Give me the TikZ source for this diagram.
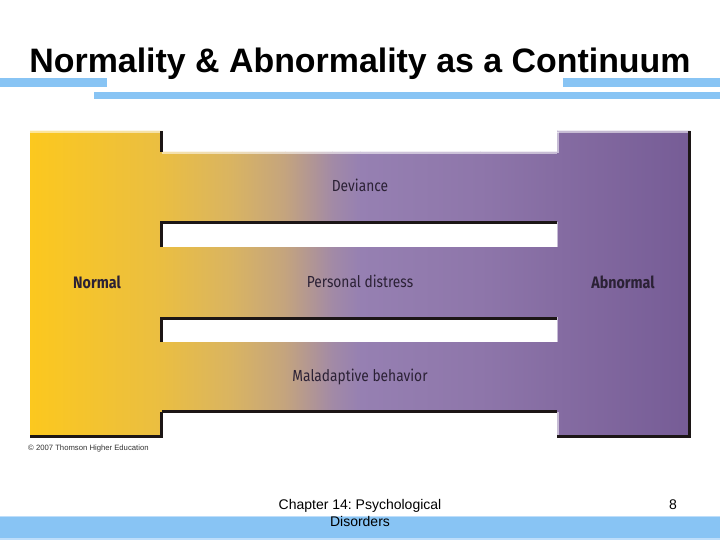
\documentclass[tikz,border=0pt]{standalone}
\usepackage{fontspec}
\setmainfont{Liberation Sans}
\newfontfamily\lblfont[FakeStretch=0.86]{Fira Sans}
\frenchspacing
\definecolor{barblue}{RGB}{136,196,244}
\definecolor{barlight}{RGB}{190,222,250}
\definecolor{shadowc}{RGB}{28,22,22}
\definecolor{lbltext}{RGB}{43,33,53}
\definecolor{g0}{RGB}{252,200,30}
\definecolor{g1}{RGB}{234,190,66}
\definecolor{g2}{RGB}{217,180,98}
\definecolor{g3}{RGB}{196,164,126}
\definecolor{g4}{RGB}{162,138,166}
\definecolor{g5}{RGB}{150,128,178}
\definecolor{g6}{RGB}{142,118,170}
\definecolor{g7}{RGB}{133,108,162}
\definecolor{g8}{RGB}{118,92,150}
\tikzset{
  darkedge/.style={draw=shadowc,line width=3pt},
  lightedge/.style={draw=white,draw opacity=0.55,line width=2pt},
  lbl/.style={text=lbltext,font=\lblfont\fontsize{16}{18}\selectfont},
  endlbl/.style={text=lbltext,font=\lblfont\bfseries\fontsize{16.6}{18}\selectfont},
  foot/.style={font=\fontsize{14}{16}\selectfont}
}
\begin{document}
\begin{tikzpicture}[x=1pt,y=-1pt]
\useasboundingbox (0,0) rectangle (720,540);
\fill[white] (0,0) rectangle (720,540);
% title
\node[anchor=base,font=\bfseries\fontsize{33.9}{37}\selectfont] (title) at (360,73) {Normality \& Abnormality as a Continuum};
% title bars
\fill[barblue] (0,78) rectangle (107,87);
\fill[barblue] (563,78) rectangle (720,87);
\fill[barblue] (94,92) rectangle (720,99);
% continuum shape
\begin{scope}
\clip (30,131) -- (162,131) -- (162,152) -- (557,152) -- (557,131) -- (690,131)
  -- (690,437) -- (557,437) -- (557,412) -- (162,412) -- (162,437) -- (30,437) -- cycle;
\shade[left color=g0,right color=g1] (29,130) rectangle (162.5,438);
\shade[left color=g1,right color=g2] (162,130) rectangle (232.5,438);
\shade[left color=g2,right color=g3] (232,130) rectangle (285.5,438);
\shade[left color=g3,right color=g4] (285,130) rectangle (332.5,438);
\shade[left color=g4,right color=g5] (332,130) rectangle (360.5,438);
\shade[left color=g5,right color=g6] (360,130) rectangle (480.5,438);
\shade[left color=g6,right color=g7] (480,130) rectangle (557.5,438);
\shade[left color=g7,right color=g8] (557,130) rectangle (691,438);
\end{scope}
% gaps
\fill[white] (162,222) rectangle (557,247);
\fill[white] (162,317) rectangle (557,342);
% light edges
\draw[lightedge] (30,132) -- (162,132);
\draw[lightedge] (162,153) -- (557,153);
\draw[lightedge] (557,132) -- (689,132);
\draw[lightedge] (558,132) -- (558,153);
\draw[lightedge] (162,246) -- (557,246) -- (557,222);
\draw[lightedge] (162,341) -- (557,341) -- (557,317);
\draw[lightedge] (558,412) -- (558,436);
% dark edges
\draw[darkedge] (161,131) -- (161,152);
\draw[darkedge] (161,247) -- (161,223) -- (557,223);
\draw[darkedge] (161,342) -- (161,318) -- (557,318);
\draw[darkedge] (162,411) -- (557,411);
\draw[darkedge] (30,436) -- (161,436) -- (161,412);
\draw[darkedge] (689,131) -- (689,436) -- (557,436);
% labels
\node[lbl] (dev) at (360,185) {Deviance};
\node[lbl] (dist) at (360,281) {Personal distress};
\node[lbl] (mal) at (360,377) {Maladaptive behavior};
\node[endlbl] (norm) at (97,282) {Normal};
\node[endlbl] (abn) at (623,282) {Abnormal};
\node[anchor=west,inner sep=0pt,text=black!80,font=\fontsize{7.7}{9}\selectfont] (copy) at (28,449) {\textcopyright{} 2007 Thomson Higher Education};
% bottom bar
\fill[barblue] (0,516) rectangle (720,540);
\fill[barlight] (0,515.5) rectangle (720,517);
\fill[barlight] (0,538) rectangle (720,540);
% footer
\node[foot,anchor=base] (ch) at (360,509) {Chapter 14: Psychological};
\node[foot,anchor=base] (dis) at (360,526) {Disorders};
\node[foot,anchor=base] (pg) at (673,509) {8};
\end{tikzpicture}
\end{document}
